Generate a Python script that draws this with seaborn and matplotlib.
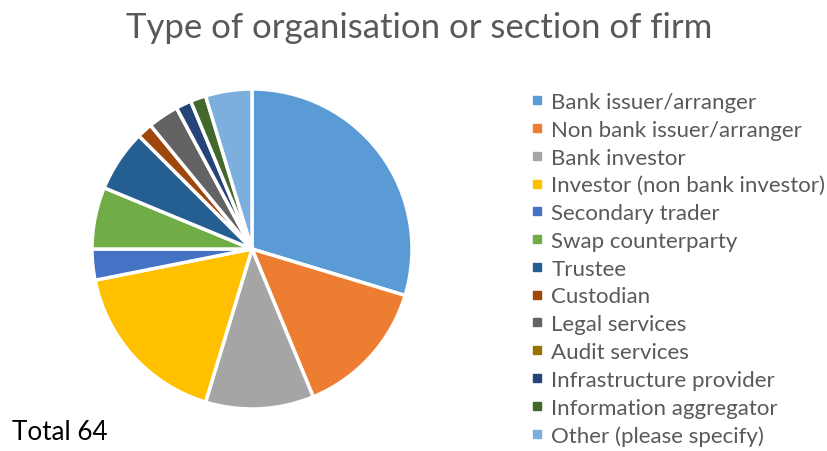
import matplotlib
matplotlib.use("Agg")
import matplotlib.pyplot as plt
from matplotlib.lines import Line2D
import seaborn as sns

# data (counts, total 64)
categories = ["Bank issuer/arranger", "Non bank issuer/arranger", "Bank investor",
              "Investor (non bank investor)", "Secondary trader", "Swap counterparty",
              "Trustee", "Custodian", "Legal services", "Audit services",
              "Infrastructure provider", "Information aggregator", "Other (please specify)"]
counts = [19, 9, 7, 11, 2, 4, 4, 1, 2, 0, 1, 1, 3]
colours = ["#5B9BD5", "#ED7D31", "#A5A5A5", "#FFC000", "#4472C4", "#70AD47",
           "#255E91", "#9E480E", "#636363", "#997300", "#264478", "#43682B", "#7CAFDD"]

sns.set_theme(style="white")
plt.rcParams["font.family"] = ["Lato", "DejaVu Sans"]
pal = sns.color_palette(colours)

fig = plt.figure(figsize=(8.28, 4.52), dpi=100)

# pie axes: centre ~(252,250) px, radius ~160 px
r = 160
pad = 1.03
left = (252 - r * pad) / 828
bottom = (452 - 250 - r * pad) / 452
ax = fig.add_axes([left, bottom, 2 * r * pad / 828, 2 * r * pad / 452])
ax.pie(counts, colors=pal, startangle=90, counterclock=False,
       wedgeprops=dict(edgecolor="white", linewidth=2.5))
ax.set_xlim(-pad, pad)
ax.set_ylim(-pad, pad)
ax.set_aspect("equal")
ax.axis("off")

fig.text(419 / 828, 1 - 28 / 452, "Type of organisation or section of firm", ha="center", va="center",
         fontsize=25, color="#595959")
fig.text(12 / 828, 1 - 433 / 452, "Total 64", ha="left", va="center", fontsize=18.8, color="black")

handles = [Line2D([], [], marker="s", linestyle="none", markersize=5.5, color=c) for c in pal]
fig.legend(handles, categories, loc="upper left", bbox_to_anchor=(530 / 828, 1 - 93 / 452),
           frameon=False, fontsize=16, labelcolor="#595959", handlelength=0.6,
           handletextpad=0.36, labelspacing=0.35, borderaxespad=0, borderpad=0)

fig.savefig("out.png", dpi=100)
